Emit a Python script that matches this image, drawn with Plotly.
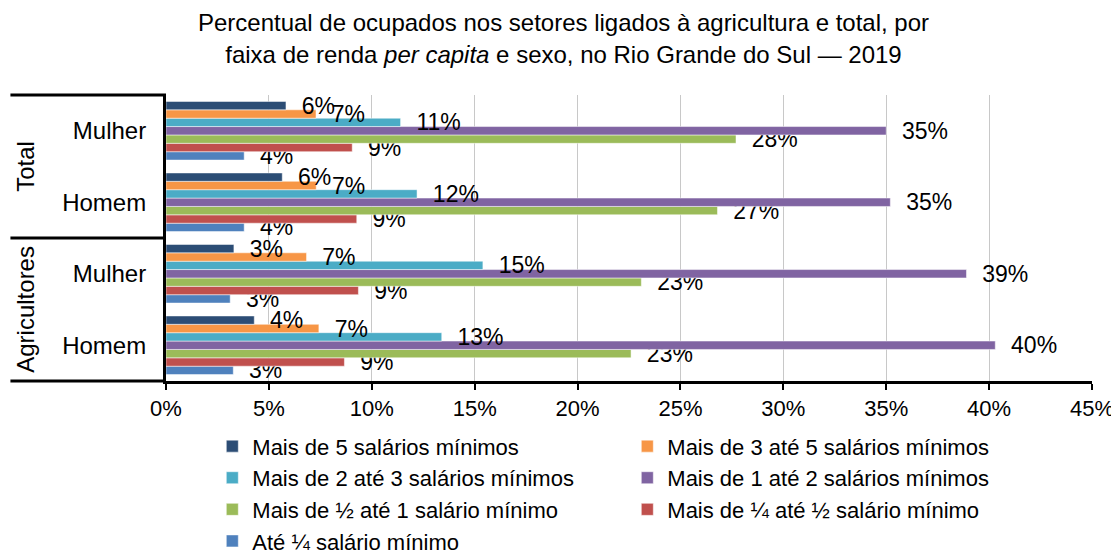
import plotly.graph_objects as go

# Categories, bottom to top on the y axis
groups = ["Agricultores", "Total"]
sexes = ["Homem", "Mulher", "Homem", "Mulher"]
cat_ids = ["Agricultores Homem", "Agricultores Mulher", "Total Homem", "Total Mulher"]

# Series (values in %), listed in the same category order
ate_quarto = [3.27, 3.12, 3.8, 3.8]
quarto_meio = [8.67, 9.35, 9.27, 9.05]
meio_um = [22.6, 23.1, 26.8, 27.7]
um_dois = [40.3, 38.9, 35.2, 35.0]
dois_tres = [13.4, 15.4, 12.2, 11.4]
tres_cinco = [7.43, 6.83, 7.3, 7.29]
mais_cinco = [4.29, 3.3, 5.65, 5.83]

series_names = [
    "Até ¼ salário mínimo",
    "Mais de ¼ até ½ salário mínimo",
    "Mais de ½ até 1 salário mínimo",
    "Mais de 1 até 2 salários mínimos",
    "Mais de 2 até 3 salários mínimos",
    "Mais de 3 até 5 salários mínimos",
    "Mais de 5 salários mínimos",
]
series_values = [ate_quarto, quarto_meio, meio_um, um_dois, dois_tres, tres_cinco, mais_cinco]
series_colors = ["#4F81BD", "#C0504D", "#9BBB59", "#8064A2", "#4BACC6", "#F79646", "#2C4D75"]

x_ticks = [0, 5, 10, 15, 20, 25, 30, 35, 40, 45]

FONT = "Liberation Sans, Arial, sans-serif"
NB = "\u00a0\u00a0"

fig = go.Figure()
for name, vals, col in zip(series_names, series_values, series_colors):
    fig.add_trace(go.Bar(
        y=cat_ids, x=vals, orientation="h", name=name,
        marker=dict(color=col, line=dict(color="white", width=0.5)),
        text=[f"{NB}{v:.0f}%" for v in vals],
        textposition="outside", constraintext="none", cliponaxis=False,
        textfont=dict(size=23, color="black", family=FONT),
    ))

# The page body adds an 8px offset, so the figure is sized to fill the window
fig.update_layout(
    width=1111, height=546,
    paper_bgcolor="white", plot_bgcolor="white",
    margin=dict(l=158, r=27, t=87, b=173, autoexpand=False),
    barmode="group", bargap=0.18, bargroupgap=0,
    font=dict(family=FONT, size=22, color="black"),
    title=dict(
        text="Percentual de ocupados nos setores ligados à agricultura e total, por<br>"
             "faixa de renda <i>per capita</i> e sexo, no Rio Grande do Sul — 2019",
        x=0.5, xanchor="center", xref="container", y=0.957, yanchor="middle",
        font=dict(size=24, family=FONT, color="black"),
    ),
    legend=dict(
        orientation="h", traceorder="reversed",
        x=0.05, xanchor="left", y=-0.155, yanchor="top",
        entrywidth=370, entrywidthmode="pixels",
        font=dict(size=22, family=FONT),
        itemwidth=30, tracegroupgap=0, bgcolor="rgba(0,0,0,0)",
    ),
    xaxis=dict(
        range=[0, 45], tickvals=x_ticks, ticktext=[f"{t}%" for t in x_ticks],
        showgrid=True, gridcolor="#C8C8C8", gridwidth=1,
        showline=True, linecolor="black", linewidth=3,
        ticks="outside", ticklen=6, tickcolor="black", tickwidth=2,
        zeroline=False, tickfont=dict(size=22), fixedrange=True,
    ),
    yaxis=dict(
        categoryorder="array", categoryarray=cat_ids,
        tickvals=cat_ids, ticktext=sexes,
        showline=True, linecolor="black", linewidth=3,
        ticks="", ticklabelstandoff=12, tickfont=dict(size=24),
        showgrid=False, zeroline=False,
    ),
    showlegend=True,
)

# Group separators and rotated group labels on the left
for yy in [0, 0.5, 1]:
    fig.add_shape(type="line", xref="paper", yref="paper",
                  x0=-0.168, x1=0, y0=yy, y1=yy,
                  line=dict(color="black", width=3))

for i, g in enumerate(groups):
    fig.add_annotation(text=g, xref="paper", yref="paper",
                       x=-0.152, y=0.25 + 0.5 * i, textangle=-90,
                       showarrow=False, font=dict(size=24, family=FONT),
                       xanchor="center", yanchor="middle")

fig.write_html("out.html")
